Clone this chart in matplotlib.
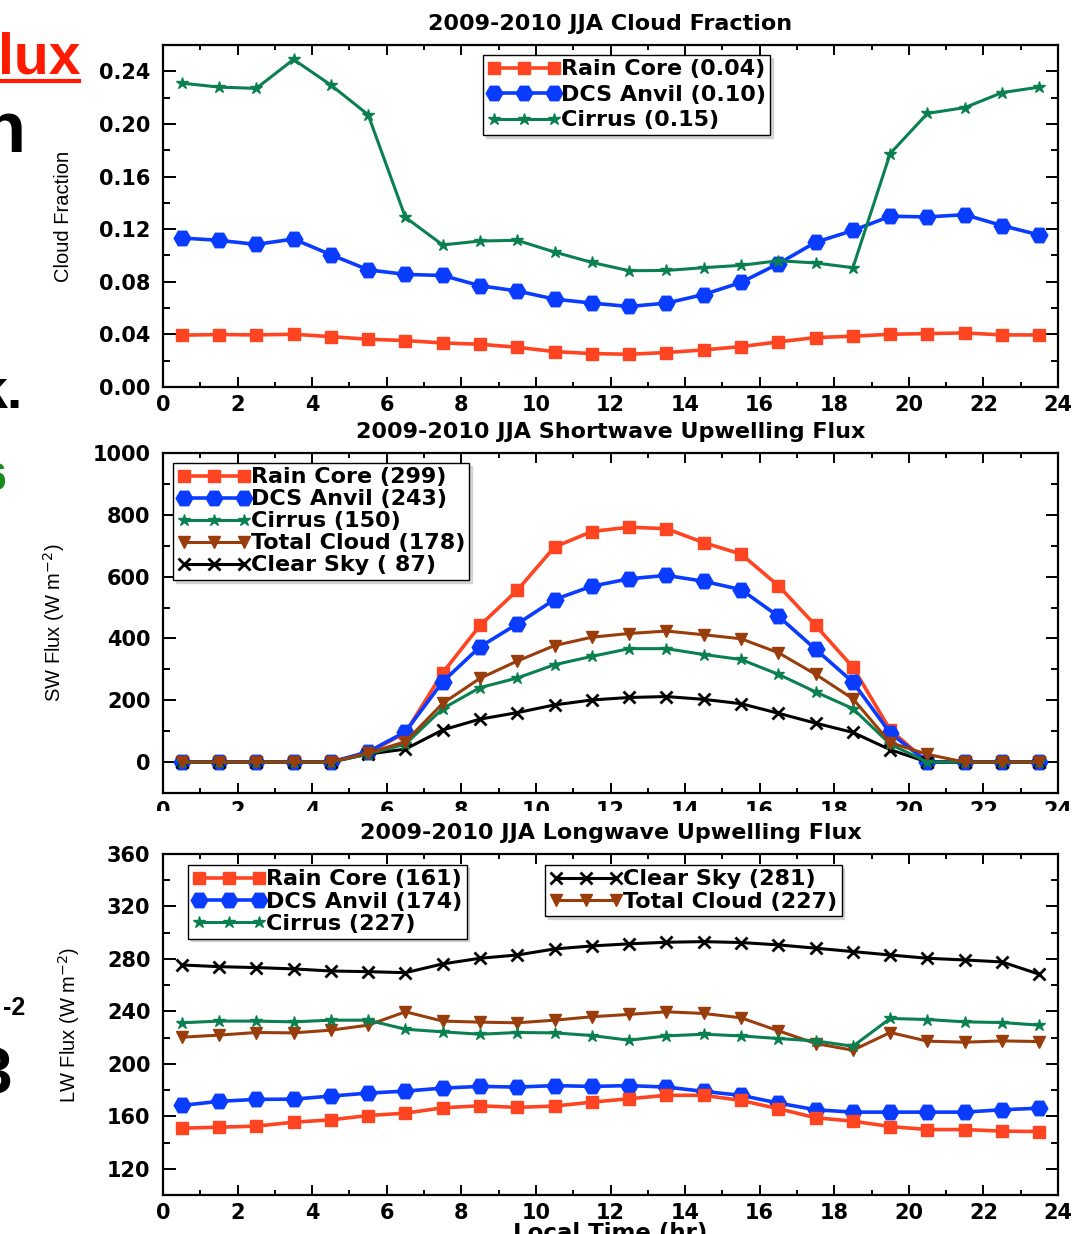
import matplotlib
matplotlib.use("Agg")
import matplotlib.pyplot as plt
from matplotlib.patches import Rectangle
from matplotlib.ticker import MultipleLocator, FormatStrFormatter

hours = [0.5, 1.5, 2.5, 3.5, 4.5, 5.5, 6.5, 7.5, 8.5, 9.5, 10.5, 11.5,
         12.5, 13.5, 14.5, 15.5, 16.5, 17.5, 18.5, 19.5, 20.5, 21.5, 22.5, 23.5]

# Cloud fraction
cf_rain = [0.0394, 0.0399, 0.0396, 0.0401, 0.0383, 0.0363, 0.0353, 0.0335, 0.0325, 0.0302, 0.0269, 0.0254,
           0.0249, 0.0262, 0.0282, 0.0307, 0.0343, 0.0376, 0.0386, 0.0401, 0.0406, 0.0411, 0.0396, 0.0396]
cf_dcs = [0.1133, 0.1115, 0.1084, 0.1125, 0.1006, 0.0891, 0.0856, 0.0848, 0.0770, 0.0730, 0.0668, 0.0638,
          0.0612, 0.0638, 0.0703, 0.0795, 0.0937, 0.1100, 0.1190, 0.1298, 0.1293, 0.1310, 0.1227, 0.1156]
cf_cirrus = [0.231, 0.228, 0.227, 0.249, 0.2296, 0.207, 0.129, 0.108, 0.111, 0.1115, 0.1026, 0.0947,
             0.0884, 0.0886, 0.0907, 0.0925, 0.0960, 0.0943, 0.0907, 0.1775, 0.208, 0.2124, 0.2238, 0.228]

# Shortwave upwelling flux
sw_rain = [0, 0, 0, 0, 0, 30, 95, 289, 442, 556, 696, 746,
           760, 755, 710, 673, 571, 442, 307, 104, 0, 0, 0, 0]
sw_dcs = [0, 0, 0, 0, 0, 33, 98, 260, 373, 447, 526, 569,
          593, 604, 585, 558, 472, 365, 259, 94, 0, 0, 0, 0]
sw_cirrus = [0, 0, 0, 0, 0, 26, 58, 173, 241, 272, 315, 342,
             367, 367, 348, 332, 284, 227, 173, 58, 0, 0, 0, 0]
sw_total = [0, 0, 0, 0, 0, 29, 66, 190, 271, 327, 377, 404,
            416, 424, 412, 399, 354, 284, 205, 63, 25, 0, 0, 0]
sw_clear = [0, 0, 0, 0, 0, 26, 42, 104, 139, 160, 185, 201,
            209, 212, 203, 189, 158, 126, 96, 40, 0, 0, 0, 0]

# Longwave upwelling flux
lw_rain = [150.9, 151.7, 152.5, 155.5, 157.3, 160.6, 162.4, 166.5, 168.0, 166.8, 167.8, 170.8,
           173.4, 176.0, 176.0, 172.1, 165.8, 158.9, 156.3, 152.2, 149.9, 149.9, 148.7, 148.4]
lw_dcs = [168.3, 171.4, 172.9, 173.1, 175.4, 177.7, 179.2, 181.5, 182.8, 182.3, 183.4, 182.8,
          183.4, 182.3, 179.0, 176.0, 170.1, 165.0, 163.2, 163.2, 163.2, 163.2, 165.0, 166.2]
lw_cirrus = [231.3, 232.6, 232.6, 232.0, 233.3, 233.3, 226.4, 224.4, 222.6, 223.9, 223.6, 221.6,
             218.0, 221.3, 222.6, 221.3, 219.3, 217.5, 213.4, 234.6, 233.8, 232.0, 231.5, 229.5]
lw_total = [220.3, 221.9, 223.9, 223.6, 225.7, 229.5, 239.7, 232.6, 231.8, 231.3, 233.3, 235.9,
            237.7, 239.7, 238.4, 235.1, 225.2, 215.5, 210.4, 223.9, 217.3, 216.5, 217.5, 217.0]
lw_clear = [275.4, 274.1, 273.4, 272.4, 270.8, 270.3, 269.5, 276.2, 280.5, 283.0, 287.6, 289.9,
            291.5, 292.7, 293.2, 292.5, 290.7, 288.2, 285.6, 283.0, 280.5, 279.2, 277.7, 268.3]

titles = ["2009-2010 JJA Cloud Fraction",
          "2009-2010 JJA Shortwave Upwelling Flux",
          "2009-2010 JJA Longwave Upwelling Flux"]
cf_labels = ["Rain Core (0.04)", "DCS Anvil (0.10)", "Cirrus (0.15)"]
sw_labels = ["Rain Core (299)", "DCS Anvil (243)", "Cirrus (150)", "Total Cloud (178)", "Clear Sky ( 87)"]
lw_labels = ["Rain Core (161)", "DCS Anvil (174)", "Cirrus (227)", "Clear Sky (281)", "Total Cloud (227)"]
ylabels = ["Cloud Fraction", "SW Flux (W m$^{-2}$)", "LW Flux (W m$^{-2}$)"]
xlabel = "Local Time (hr)"

RED = "#FF4422"
BLUE = "#0A3CFF"
GREEN = "#0A8050"
BROWN = "#9A3D0C"
BLACK = "#000000"

styles = {
    "rain": dict(color=RED, marker="s", markersize=9, lw=2.6),
    "dcs": dict(color=BLUE, marker="H", markersize=12, lw=2.6),
    "cirrus": dict(color=GREEN, marker="*", markersize=9, lw=2.2),
    "total": dict(color=BROWN, marker="v", markersize=9, lw=2.2),
    "clear": dict(color=BLACK, marker="x", markersize=9, mew=2.0, lw=2.2),
}

W, H = 1088, 1234
fig = plt.figure(figsize=(W / 100, H / 100), dpi=100)

BOLD = dict(family="DejaVu Sans", weight="bold")
YLAB = dict(family=["Liberation Sans", "DejaVu Sans"], fontsize=14.5)


def px_axes(x0, y0, x1, y1):
    return fig.add_axes([x0 / W, 1 - y1 / H, (x1 - x0) / W, (y1 - y0) / H])


def style_axes(ax, ymin, ymax, ymaj, ymin_step):
    ax.set_xlim(0, 24)
    ax.set_ylim(ymin, ymax)
    ax.xaxis.set_major_locator(MultipleLocator(2))
    ax.xaxis.set_minor_locator(MultipleLocator(1))
    ax.yaxis.set_major_locator(MultipleLocator(ymaj))
    ax.yaxis.set_minor_locator(MultipleLocator(ymin_step))
    for s in ax.spines.values():
        s.set_linewidth(1.6)
    ax.tick_params(axis="both", which="both", direction="in", top=True, right=True, width=1.4)
    ax.tick_params(axis="x", which="major", length=7, pad=5.5)
    ax.tick_params(axis="x", which="minor", length=3.5)
    ax.tick_params(axis="y", which="major", length=9, pad=9)
    ax.tick_params(axis="y", which="minor", length=5)
    ax.tick_params(axis="both", which="major", labelsize=15)
    for lab in ax.get_xticklabels() + ax.get_yticklabels():
        lab.set_fontfamily("DejaVu Sans")
        lab.set_fontweight("bold")


def add_legend(ax, handles, labels, x, y, spacing):
    leg = ax.legend(handles, labels, loc="upper left", bbox_to_anchor=(x, y),
                    numpoints=3, handlelength=3.3, handletextpad=0.0,
                    borderpad=0.2, labelspacing=spacing, borderaxespad=0,
                    fancybox=False, shadow={"color": "0.75", "alpha": 0.6},
                    prop=dict(family="DejaVu Sans", weight="bold", size=16),
                    framealpha=1, edgecolor="black")
    leg.get_frame().set_linewidth(1.0)
    return leg


# ---- top panel: cloud fraction
ax1 = px_axes(163, 45, 1058, 387)
h1 = ax1.plot(hours, cf_rain, **styles["rain"])[0]
h2 = ax1.plot(hours, cf_dcs, **styles["dcs"])[0]
h3 = ax1.plot(hours, cf_cirrus, **styles["cirrus"])[0]
ax1.yaxis.set_major_formatter(FormatStrFormatter("%.2f"))
style_axes(ax1, 0, 0.26, 0.04, 0.02)
ax1.set_ylabel(ylabels[0], **YLAB)
ax1.yaxis.set_label_coords(-0.1006, 0.5)
add_legend(ax1, [h1, h2, h3], cf_labels, 0.3575, 0.971, 0.25)

# ---- middle panel: SW
ax2 = px_axes(163, 453, 1058, 793)
g1 = ax2.plot(hours, sw_rain, **styles["rain"])[0]
g2 = ax2.plot(hours, sw_dcs, **styles["dcs"])[0]
g5 = ax2.plot(hours, sw_clear, **styles["clear"])[0]
g3 = ax2.plot(hours, sw_cirrus, **styles["cirrus"])[0]
g4 = ax2.plot(hours, sw_total, **styles["total"])[0]
style_axes(ax2, -100, 1000, 200, 100)
ax2.set_ylabel(ylabels[1], **YLAB)
ax2.yaxis.set_label_coords(-0.1076, 0.5)
add_legend(ax2, [g1, g2, g3, g4, g5], sw_labels, 0.011, 0.971, 0.09)

# ---- bottom panel: LW
ax3 = px_axes(163, 854, 1058, 1195)
k5 = ax3.plot(hours, lw_clear, **styles["clear"])[0]
k4 = ax3.plot(hours, lw_total, **styles["total"])[0]
k3 = ax3.plot(hours, lw_cirrus, **styles["cirrus"])[0]
k2 = ax3.plot(hours, lw_dcs, **styles["dcs"])[0]
k1 = ax3.plot(hours, lw_rain, **styles["rain"])[0]
style_axes(ax3, 100, 360, 40, 20)
ax3.set_ylabel(ylabels[2], **YLAB)
ax3.yaxis.set_label_coords(-0.0905, 0.5)
leg_a = add_legend(ax3, [k1, k2, k3], lw_labels[:3], 0.028, 0.968, 0.11)
ax3.add_artist(leg_a)
add_legend(ax3, [k5, k4], lw_labels[3:], 0.427, 0.968, 0.11)
ax3.set_xlabel(xlabel, **BOLD, fontsize=16.5)
ax3.xaxis.set_label_coords(0.5, -0.079)

# white strip that hides the lower part of the middle panel's tick labels
fig.add_artist(Rectangle((154 / W, 1 - 846 / H), 1, (846 - 811) / H, transform=fig.transFigure,
                         facecolor="white", edgecolor="none", zorder=1))

# panel titles
for ycen, t in zip([24, 432, 833], titles):
    fig.text(610.5 / W, 1 - ycen / H, t, ha="center", va="center", fontsize=16, zorder=3, **BOLD)

# fragments of slide text at the left edge
fig.text(80 / W, 1 - 73 / H, "lux", ha="right", va="baseline", color="#FF1A00",
         family="Liberation Sans", weight="bold", fontsize=41, zorder=3)
fig.add_artist(plt.Line2D([0, 79 / W], [1 - 81 / H, 1 - 81 / H], transform=fig.transFigure,
                          color="#FF1A00", lw=3, zorder=3))
fig.text(25 / W, 1 - 152 / H, "n", ha="right", va="baseline", color="black",
         family="Liberation Sans", weight="bold", fontsize=52, zorder=3)
fig.text(23 / W, 1 - 408 / H, "k.", ha="right", va="baseline", color="black",
         family="Liberation Sans", weight="bold", fontsize=40, zorder=3)
fig.text(6 / W, 1 - 490 / H, "6", ha="right", va="baseline", color="#1A8A1A",
         family="Liberation Sans", weight="bold", fontsize=28, zorder=3)
fig.text(25 / W, 1 - 1015 / H, "-2", ha="right", va="baseline", color="black",
         family="Liberation Sans", weight="bold", fontsize=18, zorder=3)
fig.text(12 / W, 1 - 1093 / H, "3", ha="right", va="baseline", color="black",
         family="Liberation Sans", weight="bold", fontsize=46, zorder=3)

fig.savefig("out.png", dpi=100)
